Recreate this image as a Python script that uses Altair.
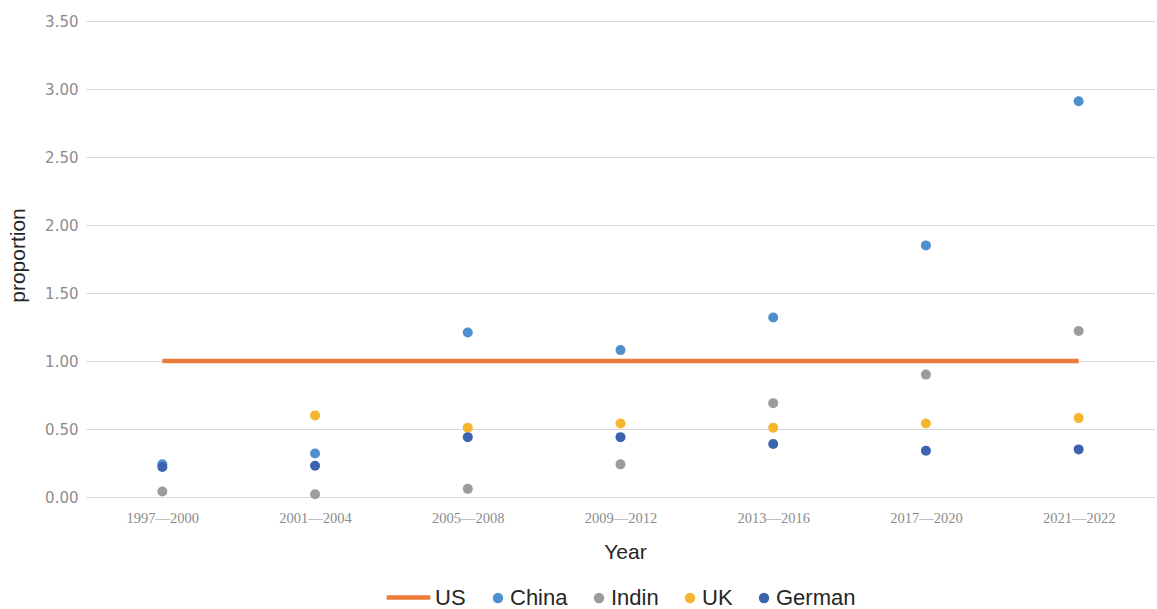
import altair as alt
import pandas as pd

# Period categories on the x axis
periods = ["1997\u20142000", "2001\u20142004", "2005\u20142008", "2009\u20142012",
           "2013\u20142016", "2017\u20142020", "2021\u20142022"]

# Proportion relative to the US baseline (US = 1.00)
us = [1.00, 1.00, 1.00, 1.00, 1.00, 1.00, 1.00]
china = [0.24, 0.32, 1.21, 1.08, 1.32, 1.85, 2.91]
indin = [0.04, 0.02, 0.06, 0.24, 0.69, 0.90, 1.22]
uk = [None, 0.60, 0.51, 0.54, 0.51, 0.54, 0.58]
german = [0.22, 0.23, 0.44, 0.44, 0.39, 0.34, 0.35]

point_series = ["China", "Indin", "UK", "German"]
point_colors = ["#4f8fcc", "#9c9c9f", "#f5b52e", "#3c64ae"]
us_color = "#ec7b3a"

line_df = pd.DataFrame({"Year": periods, "proportion": us, "series": "US"})

rows = []
for i, p in enumerate(periods):
    for name, vals in zip(point_series, [china, indin, uk, german]):
        if vals[i] is not None:
            rows.append({"Year": p, "proportion": vals[i], "series": name})
point_df = pd.DataFrame(rows)

x_enc = alt.X(
    "Year:N",
    sort=periods,
    scale=alt.Scale(type="point", padding=0.5),
    axis=alt.Axis(
        title="Year",
        labelFont="Liberation Serif",
        labelFontSize=14.5,
        labelColor="#8c8c8c",
        labelAngle=0,
        labelPadding=14,
        ticks=False,
        domain=False,
        grid=False,
        titleFont="Liberation Sans",
        titleFontSize=21,
        titleFontWeight="normal",
        titleColor="#262626",
        titleX=539,
        titleY=61,
        titleBaseline="alphabetic",
    ),
)

y_enc = alt.Y(
    "proportion:Q",
    scale=alt.Scale(domain=[0, 3.5], nice=False, zero=True),
    axis=alt.Axis(
        title="proportion",
        values=[0, 0.5, 1.0, 1.5, 2.0, 2.5, 3.0, 3.5],
        format=".2f",
        labelFont="DejaVu Sans",
        labelFontSize=15,
        labelColor="#8c8c8c",
        labelPadding=8,
        ticks=False,
        domain=False,
        grid=True,
        gridColor="#d9d9d9",
        gridWidth=1,
        titleFont="Liberation Sans",
        titleFontSize=21,
        titleFontWeight="normal",
        titleColor="#262626",
        titleAngle=270,
        titleX=-62,
        titleY=234,
        titleBaseline="alphabetic",
        titleAlign="center",
    ),
)

legend_common = dict(
    orient="none",
    direction="horizontal",
    title=None,
    padding=0,
    labelFont="Liberation Sans",
    labelFontSize=22,
    labelColor="#262626",
    labelBaseline="middle",
)

line = alt.Chart(line_df).mark_line(strokeWidth=4.5).encode(
    x=x_enc,
    y=y_enc,
    stroke=alt.Stroke(
        "series:N",
        scale=alt.Scale(domain=["US"], range=[us_color]),
        legend=alt.Legend(
            symbolType="stroke",
            symbolSize=1900,
            symbolStrokeWidth=4.5,
            labelOffset=2,
            legendX=298,
            legendY=552,
            **legend_common,
        ),
    ),
)

points = alt.Chart(point_df).mark_circle(size=100, opacity=1).encode(
    x=x_enc,
    y=y_enc,
    color=alt.Color(
        "series:N",
        sort=point_series,
        scale=alt.Scale(domain=point_series, range=point_colors),
        legend=alt.Legend(
            symbolType="circle",
            symbolSize=110,
            symbolStrokeWidth=0,
            labelOffset=1,
            columnPadding=20,
            legendX=401,
            legendY=566,
            **legend_common,
        ),
    ),
    order=alt.Order("order:Q"),
).transform_calculate(
    order="indexof(['China','Indin','UK','German'], datum.series)"
)

chart = (
    alt.layer(line, points)
    .resolve_scale(color="independent", stroke="independent")
    .properties(
        width=1069,
        height=476,
        padding={"left": 86, "top": 21, "right": 2, "bottom": 112},
        autosize=alt.AutoSizeParams(type="none"),
        background="white",
    )
    .configure_view(stroke=None)
)

chart.save("out.html", embed_options={"renderer": "svg", "actions": False})
